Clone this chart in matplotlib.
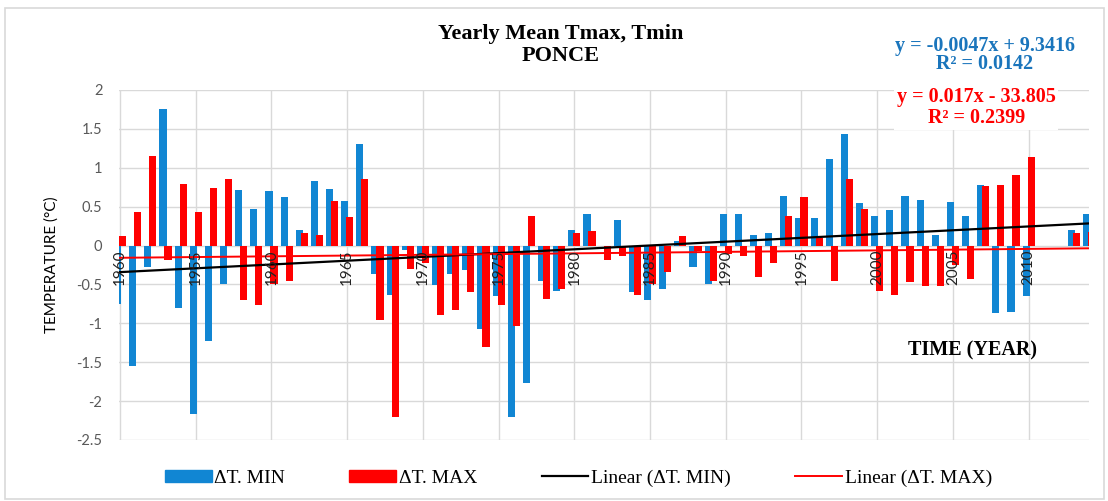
import numpy as np
import matplotlib.pyplot as plt
from matplotlib.patches import Patch, Rectangle
from matplotlib.lines import Line2D

# Jahreswerte 1950 - 2014 (Abweichungen in °C)
years = np.arange(1950, 2015)
dt_min = [-0.75, -1.55, -0.27, 1.75, -0.80, -2.17, -1.23, -0.49, 0.71, 0.47,
          0.70, 0.63, 0.20, 0.83, 0.73, 0.57, 1.31, -0.37, -0.64, -0.06,
          -0.13, -0.51, -0.36, -0.31, -1.07, -0.65, -2.20, -1.77, -0.46, -0.59,
          0.20, 0.41, 0.00, 0.33, -0.60, -0.70, -0.56, 0.06, -0.27, -0.49,
          0.41, 0.40, 0.13, 0.16, 0.64, 0.36, 0.36, 1.11, 1.43, 0.55,
          0.38, 0.46, 0.64, 0.59, 0.14, 0.56, 0.38, 0.78, -0.87, -0.85,
          -0.65, np.nan, np.nan, 0.20, 0.41]
dt_max = [0.12, 0.43, 1.15, -0.19, 0.79, 0.43, 0.74, 0.86, -0.70, -0.76,
          -0.49, -0.46, 0.16, 0.14, 0.57, 0.37, 0.85, -0.96, -2.20, -0.30,
          -0.22, -0.89, -0.83, -0.60, -1.30, -0.76, -1.04, 0.38, -0.69, -0.56,
          0.16, 0.19, -0.18, -0.13, -0.64, -0.50, -0.34, 0.12, -0.07, -0.45,
          -0.11, -0.13, -0.41, -0.23, 0.38, 0.63, 0.10, -0.46, 0.85, 0.47,
          -0.59, -0.63, -0.47, -0.52, -0.52, -0.25, -0.43, 0.76, 0.78, 0.91,
          1.14, np.nan, np.nan, 0.16, 0.17]
tick_years = list(range(1950, 2011, 5))
tick_labels = ['1960', '1955', '1960', '1965', '1970', '1975', '1980',
               '1985', '1990', '1995', '2000', '2005', '2010']
yticks = np.arange(-2.5, 2.01, 0.5)

blue = '#1186d3'
red = '#ff0000'
serif = 'Liberation Serif'

fig = plt.figure(figsize=(11.08, 5.01), dpi=100)
fig.patches.append(Rectangle((5 / 1108, 0.004), 1 - 9 / 1108, 1 - 10 / 501,
                             transform=fig.transFigure, fill=False,
                             edgecolor='#d9d9d9', lw=1.2))
ax = fig.add_axes([0.1074, 0.1218, 0.8756, 0.6986])

ax.bar(years - 0.165, dt_min, width=0.47, color=blue, zorder=2)
ax.bar(years + 0.165, dt_max, width=0.47, color=red, zorder=2)

# lineare Trends
mn = np.array(dt_min)
mx = np.array(dt_max)
ok = ~np.isnan(mn)
p_min = np.polyfit(years[ok], mn[ok], 1)
p_max = np.polyfit(years[ok], mx[ok], 1)
xt = np.array([1949.9, 2014.1])
ax.plot(xt, np.polyval(p_min, xt), color='black', lw=1.6, zorder=3)
ax.plot(xt, np.polyval(p_max, xt), color=red, lw=1.4, zorder=3)

ax.set_xlim(1949.93, 2014.0)
ax.set_ylim(-2.5, 2.0)
ax.set_xticks(tick_years)
ax.set_xticklabels([])
ax.set_yticks(yticks)
ax.set_yticklabels([f'{v:g}' for v in yticks], fontsize=10.5, color='#595959',
                   family='Lato')
ax.tick_params(length=0, pad=12)
ax.grid(True, color='#d9d9d9', lw=1)
ax.set_axisbelow(True)
for s in ax.spines.values():
    s.set_visible(False)

for yr, lab in zip(tick_years, tick_labels):
    ax.text(yr, -0.05, lab, rotation=90, ha='center', va='top',
            fontsize=11, family='Lato', color='#222222', zorder=4)

ax.set_ylabel('TEMPERATURE (°C)', fontsize=11, family='Lato', labelpad=13)

fig.text(0.506, 0.932, 'Yearly Mean Tmax, Tmin', ha='center', va='center',
         family=serif, weight='bold', fontsize=16)
fig.text(0.506, 0.888, 'PONCE', ha='center', va='center',
         family=serif, weight='bold', fontsize=16)

fig.text(0.889, 0.908, 'y = -0.0047x + 9.3416', ha='center', va='center',
         family=serif, weight='bold', fontsize=14.5, color='#1a75bc')
fig.text(0.889, 0.872, 'R² = 0.0142', ha='center', va='center',
         family=serif, weight='bold', fontsize=14.5, color='#1a75bc')
fig.text(0.881, 0.786, 'y = 0.017x - 33.805\nR² = 0.2399', ha='center',
         va='center', family=serif, weight='bold', fontsize=14.5, color=red,
         linespacing=1.05,
         bbox=dict(facecolor='white', edgecolor='none', pad=2))

ax.text(0.878, 0.301, 'TIME (YEAR)', transform=fig.transFigure, ha='center',
        va='center', family=serif, weight='bold', fontsize=14.5)

handles = [Patch(color=blue), Patch(color=red),
           Line2D([], [], color='black', lw=1.6),
           Line2D([], [], color=red, lw=1.4)]
labels = ['ΔT. MIN', 'ΔT. MAX', 'Linear (ΔT. MIN)', 'Linear (ΔT. MAX)']
fig.legend(handles, labels, ncol=4, loc='center', bbox_to_anchor=(0.522, 0.046),
           frameon=False, prop={'family': serif, 'size': 14},
           handlelength=2.4, handleheight=0.55, handletextpad=0.15,
           columnspacing=3.3)

fig.savefig('out.png', dpi=100)
